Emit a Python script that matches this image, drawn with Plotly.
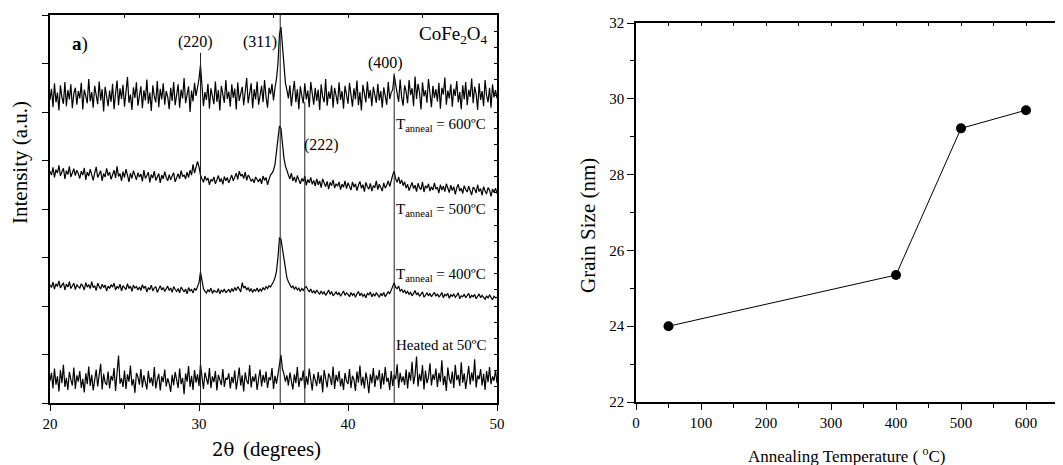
import numpy as np
import plotly.graph_objects as go

# ---------------- data ----------------
two_theta = np.round(np.arange(20.0, 50.05, 0.1), 1)

# XRD intensities (a.u. x100), 2theta 20.0 -> 50.0 step 0.1
int_600 = [
    625, 648, 610, 659, 620, 640, 603, 655, 630, 617, 662, 612, 645, 626, 657, 608, 638, 650, 615, 643,
    628, 660, 605, 646, 633, 618, 668, 622, 641, 609, 654, 631, 616, 663, 624, 647, 601, 652, 635, 612,
    644, 621, 658, 606, 639, 665, 614, 649, 627, 656, 611, 642, 672, 619, 636, 604, 651, 629, 661, 613,
    637, 653, 608, 645, 624, 667, 617, 640, 602, 655, 632, 620, 664, 610, 648, 626, 659, 615, 643, 631,
    606, 650, 623, 662, 614, 639, 657, 609, 646, 628, 670, 618, 635, 653, 600, 644, 622, 660, 633, 650,
    668, 697, 655, 612, 641, 625, 658, 607, 649, 630, 616, 663, 621, 645, 603, 654, 634, 619, 666, 627,
    642, 611, 657, 629, 648, 605, 661, 623, 638, 652, 614, 644, 670, 618, 636, 659, 608, 647, 626, 663,
    615, 640, 654, 620, 666, 631, 609, 650, 637, 658, 624, 650, 668, 700, 760, 775, 730, 690, 660, 645,
    628, 655, 612, 641, 664, 620, 647, 606, 653, 633, 618, 659, 626, 644, 610, 662, 637, 615, 650, 623,
    646, 604, 657, 631, 620, 668, 613, 642, 627, 655, 609, 650, 634, 616, 661, 625, 643, 607, 654, 630,
    617, 660, 638, 611, 649, 626, 665, 614, 641, 603, 656, 632, 620, 663, 628, 645, 612, 652, 636, 619,
    658, 624, 643, 609, 651, 633, 615, 662, 627, 640, 646, 676, 652, 638, 621, 667, 630, 613, 655, 642,
    618, 666, 635, 649, 612, 673, 627, 658, 640, 605, 661, 632, 645, 619, 668, 638, 610, 654, 629, 647,
    622, 660, 607, 650, 636, 671, 615, 644, 628, 657, 611, 648, 633, 664, 620, 641, 606, 655, 626, 662,
    614, 646, 631, 669, 618, 652, 637, 604, 659, 625, 643, 612, 666, 634, 620, 650, 609, 657, 630, 645,
    628,
]
int_500 = [
    478, 470, 486, 465, 481, 474, 490, 468, 477, 484, 462, 479, 471, 488, 466, 475, 483, 469, 480, 473,
    463, 478, 470, 485, 460, 476, 468, 482, 472, 459, 474, 487, 465, 471, 479, 458, 473, 466, 484, 469,
    476, 461, 470, 480, 464, 488, 467, 473, 458, 477, 465, 482, 470, 456, 474, 463, 479, 468, 460, 475,
    466, 472, 457, 480, 463, 469, 476, 455, 471, 464, 478, 459, 467, 473, 454, 470, 462, 477, 465, 458,
    471, 460, 468, 475, 456, 466, 473, 462, 479, 467, 470, 462, 476, 465, 480, 470, 492, 474, 485, 498,
    487, 470, 462, 455, 468, 459, 464, 450, 461, 457, 466, 452, 460, 469, 456, 463, 451, 467, 458, 465,
    454, 462, 470, 458, 466, 474, 461, 478, 468, 472, 463, 476, 459, 470, 465, 457, 462, 454, 466, 460,
    456, 463, 452, 468, 459, 465, 450, 461, 470, 474, 480, 492, 515, 548, 571, 566, 527, 505, 489, 478,
    470, 462, 474, 458, 466, 455, 469, 460, 452, 463, 457, 468, 449, 461, 454, 465, 451, 459, 447, 462,
    450, 458, 444, 462, 453, 446, 457, 441, 455, 448, 460, 443, 452, 447, 456, 440, 451, 445, 458, 442,
    454, 447, 439, 456, 445, 452, 438, 449, 457, 443, 450, 436, 455, 446, 441, 453, 437, 448, 444, 458,
    440, 451, 445, 437, 454, 443, 449, 458, 446, 462, 470, 478, 462, 455, 466, 452, 460, 448, 456, 443,
    451, 438, 447, 455, 442, 449, 436, 453, 444, 440, 456, 435, 448, 443, 452, 437, 446, 439, 454, 441,
    445, 433, 450, 439, 447, 436, 452, 441, 434, 449, 438, 446, 430, 444, 451, 437, 443, 432, 448, 440,
    435, 447, 438, 429, 445, 441, 433, 450, 436, 442, 428, 446, 437, 431, 444, 439, 426, 441, 434, 443,
    432,
]
int_400 = [
    244, 238, 249, 235, 246, 240, 252, 237, 243, 248, 233, 245, 239, 250, 236, 242, 247, 234, 244, 240,
    237, 246, 241, 233, 248, 239, 244, 236, 250, 238, 242, 232, 247, 240, 235, 245, 238, 243, 231, 241,
    236, 244, 239, 247, 233, 240, 237, 245, 231, 242, 238, 234, 246, 236, 241, 230, 243, 237, 240, 233,
    239, 232, 244, 236, 241, 229, 238, 234, 243, 231, 237, 240, 228, 235, 242, 233, 238, 230, 236, 241,
    232, 237, 228, 240, 234, 230, 236, 227, 239, 233, 229, 235, 225, 238, 231, 234, 227, 237, 232, 240,
    248, 270, 252, 236, 230, 227, 234, 229, 237, 226, 232, 230, 228, 236, 225, 233, 229, 235, 227, 231,
    234, 228, 236, 230, 238, 232, 240, 235, 229, 248, 237, 241, 233, 238, 230, 236, 228, 234, 231, 237,
    229, 235, 231, 238, 233, 240, 236, 242, 239, 245, 250, 258, 272, 300, 340, 338, 318, 290, 270, 258,
    250, 244, 238, 241, 235, 239, 233, 237, 230, 236, 232, 238, 240, 234, 229, 235, 227, 232, 226, 233,
    228, 224, 231, 225, 229, 222, 227, 233, 224, 230, 221, 226, 229, 223, 228, 220, 225, 231, 222, 227,
    224, 219, 228, 222, 226, 218, 225, 230, 221, 227, 220, 224, 217, 226, 223, 229, 219, 225, 221, 227,
    223, 218, 226, 221, 228, 219, 224, 230, 225, 233, 240, 248, 238, 236, 241, 230, 235, 228, 232, 226,
    230, 224, 228, 221, 226, 232, 223, 227, 220, 225, 229, 218, 224, 227, 221, 226, 219, 223, 228, 220,
    225, 219, 222, 228, 217, 224, 221, 226, 216, 223, 220, 225, 218, 222, 227, 215, 221, 219, 224, 217,
    221, 226, 216, 222, 219, 224, 215, 220, 225, 217, 222, 218, 214, 221, 216, 223, 219, 213, 220, 217,
    218,
]
int_50 = [
    45, 62, 30, 71, 38, 55, 24, 68, 41, 79, 33, 52, 27, 64, 48, 36, 73, 29, 57, 44,
    66, 31, 50, 22, 61, 39, 75, 35, 58, 26, 47, 69, 34, 53, 81, 28, 60, 42, 37, 65,
    30, 56, 46, 72, 25, 63, 98, 40, 51, 33, 67, 29, 59, 44, 77, 36, 49, 21, 62, 54,
    38, 70, 32, 57, 45, 28, 66, 41, 53, 35, 74, 30, 48, 60, 26, 55, 43, 69, 34, 51,
    40, 23, 58, 37, 64, 46, 31, 71, 39, 52, 18, 61, 44, 76, 33, 56, 27, 68, 42, 59,
    35, 80, 47, 29, 63, 50, 38, 72, 31, 55, 43, 66, 26, 58, 45, 37, 70, 33, 52, 48,
    61, 30, 54, 41, 67, 28, 49, 73, 36, 57, 24, 63, 46, 39, 78, 32, 55, 44, 60, 27,
    50, 69, 34, 58, 42, 65, 31, 53, 47, 72, 29, 56, 40, 62, 85, 99, 70, 60, 44, 57,
    36, 63, 45, 28, 59, 41, 74, 33, 52, 46, 67, 30, 55, 38, 71, 43, 26, 60, 49, 35,
    64, 40, 57, 22, 68, 47, 32, 61, 53, 37, 75, 29, 58, 44, 66, 34, 51, 27, 62, 45,
    39, 70, 31, 56, 48, 25, 65, 42, 77, 36, 54, 30, 63, 46, 20, 59, 41, 72, 33, 57,
    47, 68, 29, 61, 38, 74, 44, 52, 27, 66, 35, 58, 49, 80, 31, 62, 43, 55, 37, 69,
    30, 64, 46, 85, 39, 57, 96, 34, 60, 45, 78, 28, 67, 41, 53, 82, 36, 59, 48, 71,
    33, 62, 44, 88, 37, 56, 25, 73, 50, 40, 65, 31, 79, 47, 58, 35, 84, 42, 61, 29,
    54, 76, 38, 63, 45, 90, 32, 57, 49, 70, 36, 60, 27, 66, 43, 74, 39, 55, 46, 68,
    41,
]

peak_pos = [30.1, 35.45, 37.1, 43.1]
peak_top = [7.22, 8.0, 6.21, 6.80]
peak_labels = ["(220)", "(311)", "(222)", "(400)"]
peak_label_x = [29.75, 34.1, 38.25, 42.5]
peak_label_y = [7.44, 7.44, 5.32, 7.01]

sample_labels = ["T<sub>anneal</sub> = 600ºC", "T<sub>anneal</sub> = 500ºC",
                 "T<sub>anneal</sub> = 400ºC", "Heated at 50ºC"]
sample_label_y = [5.73, 3.98, 2.64, 1.20]

anneal_temp = [50, 400, 500, 600]
grain_size = [24.0, 25.35, 29.22, 29.70]

# ---------------- figure ----------------
FONT = "Liberation Serif, Times New Roman, serif"
W, H, OFF = 1063, 465, 8   # page body adds an 8px offset


def px(xp):
    return (xp - OFF) / W


def py(yp):
    return (H - (yp - OFF)) / H


fig = go.Figure()

n = min(len(two_theta), len(int_600), len(int_500), len(int_400), len(int_50))
for series in (int_600, int_500, int_400, int_50):
    fig.add_trace(go.Scatter(
        x=two_theta[:n], y=np.array(series[:n]) / 100.0, mode="lines",
        line=dict(color="black", width=1.2), xaxis="x", yaxis="y",
        showlegend=False, hoverinfo="skip"))

# peak reference lines
lx, ly = [], []
for p, t in zip(peak_pos, peak_top):
    lx += [p, p, None]
    ly += [0, t, None]
fig.add_trace(go.Scatter(x=lx, y=ly, mode="lines", line=dict(color="#222", width=1),
                         xaxis="x", yaxis="y", showlegend=False, hoverinfo="skip"))

# helper invisible traces for overlay axes
fig.add_trace(go.Scatter(x=[20], y=[0], xaxis="x3", yaxis="y", mode="markers",
                         marker=dict(opacity=0), showlegend=False, hoverinfo="skip"))
fig.add_trace(go.Scatter(x=[20], y=[0], xaxis="x", yaxis="y3", mode="markers",
                         marker=dict(opacity=0), showlegend=False, hoverinfo="skip"))
fig.add_trace(go.Scatter(x=[0], y=[22], xaxis="x4", yaxis="y2", mode="markers",
                         marker=dict(opacity=0), showlegend=False, hoverinfo="skip"))

# grain size
fig.add_trace(go.Scatter(x=anneal_temp, y=grain_size, mode="lines+markers",
                         line=dict(color="black", width=1),
                         marker=dict(color="black", size=10),
                         xaxis="x2", yaxis="y2", showlegend=False))

ax_common = dict(showline=True, linecolor="black", linewidth=1.5, showgrid=False,
                 zeroline=False, automargin=False, tickcolor="black",
                 tickfont=dict(family=FONT, size=15, color="black"))

L_dom_x = [px(50), px(497)]
L_dom_y = [py(403), py(15)]
R_dom_x = [px(636), 1.0]
R_dom_y = [py(402), py(23)]
r_max = (W + OFF - 636) / 0.65   # right edge of visible area in degC

fig.update_layout(
    width=W, height=H,
    margin=dict(l=0, r=0, t=0, b=0, pad=0, autoexpand=False),
    paper_bgcolor="white", plot_bgcolor="white",
    font=dict(family=FONT, color="black"),
    xaxis=dict(**ax_common, domain=L_dom_x, range=[20, 50], anchor="y",
               tickmode="linear", tick0=20, dtick=10, ticks="outside", ticklen=6,
               minor=dict(dtick=5, ticks="outside", ticklen=4, tickcolor="black")),
    yaxis=dict(**ax_common, domain=L_dom_y, range=[0, 8], anchor="x",
               tickmode="linear", tick0=0, dtick=1, ticks="outside", ticklen=6,
               showticklabels=False),
    xaxis3=dict(**ax_common, overlaying="x", side="top", anchor="y", range=[20, 50],
                tickmode="linear", tick0=20, dtick=5, ticks="inside", ticklen=3,
                showticklabels=False),
    yaxis3=dict(**ax_common, overlaying="y", side="right", anchor="x", range=[0, 8],
                tickmode="linear", tick0=0, dtick=1 / 3, ticks="inside", ticklen=3,
                showticklabels=False),
    xaxis2=dict(**ax_common, domain=R_dom_x, range=[0, r_max], anchor="y2",
                tickmode="linear", tick0=0, dtick=100, ticks="outside", ticklen=6,
                minor=dict(dtick=50, ticks="outside", ticklen=4, tickcolor="black")),
    yaxis2=dict(**ax_common, domain=R_dom_y, range=[22, 32], anchor="x2",
                tickmode="linear", tick0=22, dtick=2, ticks="outside", ticklen=7,
                minor=dict(dtick=1, ticks="outside", ticklen=4, tickcolor="black")),
    xaxis4=dict(**ax_common, overlaying="x2", side="top", anchor="y2", range=[0, r_max],
                tickmode="linear", tick0=0, dtick=50, ticks="inside", ticklen=3,
                showticklabels=False),
)

ann = []
for lbl, x, y in zip(peak_labels, peak_label_x, peak_label_y):
    ann.append(dict(x=x, y=y, xref="x", yref="y", text=lbl, showarrow=False,
                    xanchor="center", yanchor="middle",
                    font=dict(family=FONT, size=16, color="black")))
for lbl, y in zip(sample_labels, sample_label_y):
    ann.append(dict(x=49.4, y=y, xref="x", yref="y", text=lbl, showarrow=False,
                    xanchor="right", yanchor="middle",
                    font=dict(family=FONT, size=15, color="black")))
ann.append(dict(x=47.05, y=7.59, xref="x", yref="y", text="CoFe<sub>2</sub>O<sub>4</sub>",
                showarrow=False, xanchor="center", yanchor="middle",
                font=dict(family=FONT, size=19, color="black")))
ann.append(dict(x=22.0, y=7.4, xref="x", yref="y", text="<b>a</b>)",
                showarrow=False, xanchor="center", yanchor="middle",
                font=dict(family=FONT, size=19, color="black")))
# x title split so that the parenthesised part keeps the serif face
ann.append(dict(x=px(236), y=py(449), xref="paper", yref="paper",
                text="2θ", showarrow=False, xanchor="right", yanchor="middle",
                font=dict(family="DejaVu Serif", size=18, color="black")))
ann.append(dict(x=px(241), y=py(449), xref="paper", yref="paper",
                text="(degrees)", showarrow=False, xanchor="left", yanchor="middle",
                font=dict(family=FONT, size=21, color="black")))
ann.append(dict(x=px(20), y=py(163), xref="paper", yref="paper",
                text="Intensity (a.u.)", textangle=-90, showarrow=False,
                xanchor="center", yanchor="middle",
                font=dict(family=FONT, size=21, color="black")))
ann.append(dict(x=px(847), y=py(455), xref="paper", yref="paper",
                text="Annealing Temperature ( <sup>o</sup>C)", showarrow=False,
                xanchor="center", yanchor="middle",
                font=dict(family=FONT, size=17, color="black")))
ann.append(dict(x=px(588), y=py(226), xref="paper", yref="paper",
                text="Grain Size (nm)", textangle=-90, showarrow=False,
                xanchor="center", yanchor="middle",
                font=dict(family=FONT, size=21, color="black")))
fig.update_layout(annotations=ann)

fig.write_html("out.html")
